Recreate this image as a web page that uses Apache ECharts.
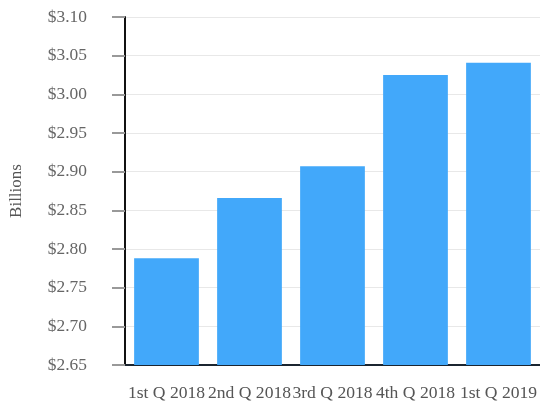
<!DOCTYPE html>
<html>
<head>
<meta charset="utf-8">
<script src="https://cdn.jsdelivr.net/npm/echarts@6/dist/echarts.min.js"></script>
<style>
  html, body { margin: 0; padding: 0; background: #fff; }
  #container { width: 540px; height: 411px; }
</style>
</head>
<body>
<div id="container"></div>
<script>
var quarters = ['1st Q 2018', '2nd Q 2018', '3rd Q 2018', '4th Q 2018', '1st Q 2019'];
var revenue = [2.788, 2.866, 2.907, 3.025, 3.041];
var yMin = 2.65, yMax = 3.10, yStep = 0.05;

var dom = document.getElementById("container");
var myChart = echarts.init(dom);
var serif = '"Liberation Serif", "DejaVu Serif", serif';

var option = {
    animation: false,
    grid: {
        left: 124,
        right: 0,
        top: 17,
        bottom: 46
    },
    xAxis: {
        type: 'category',
        data: quarters,
        axisLine: { lineStyle: { color: '#1b2530', width: 2 } },
        axisTick: { show: false },
        axisLabel: {
            interval: 0,
            hideOverlap: false,
            margin: 19,
            color: '#555',
            fontFamily: serif,
            fontSize: 17.6
        }
    },
    yAxis: {
        type: 'value',
        min: yMin,
        max: yMax,
        interval: yStep,
        name: 'Billions',
        nameLocation: 'middle',
        nameGap: 100,
        nameTextStyle: { color: '#555', fontFamily: serif, fontSize: 17 },
        axisLine: { show: true, lineStyle: { color: '#111', width: 2 } },
        axisTick: { show: true, length: 13, lineStyle: { color: '#999', width: 2 } },
        splitLine: { lineStyle: { color: '#e8e8e8', width: 1 } },
        axisLabel: {
            margin: 38,
            color: '#666',
            fontFamily: serif,
            fontSize: 17.4,
            formatter: function (v) { return '$' + v.toFixed(2); }
        }
    },
    series: [{
        type: 'bar',
        data: revenue,
        barCategoryGap: '22%',
        itemStyle: { color: '#42a8fa' }
    }]
};

myChart.setOption(option);
</script>
</body>
</html>
